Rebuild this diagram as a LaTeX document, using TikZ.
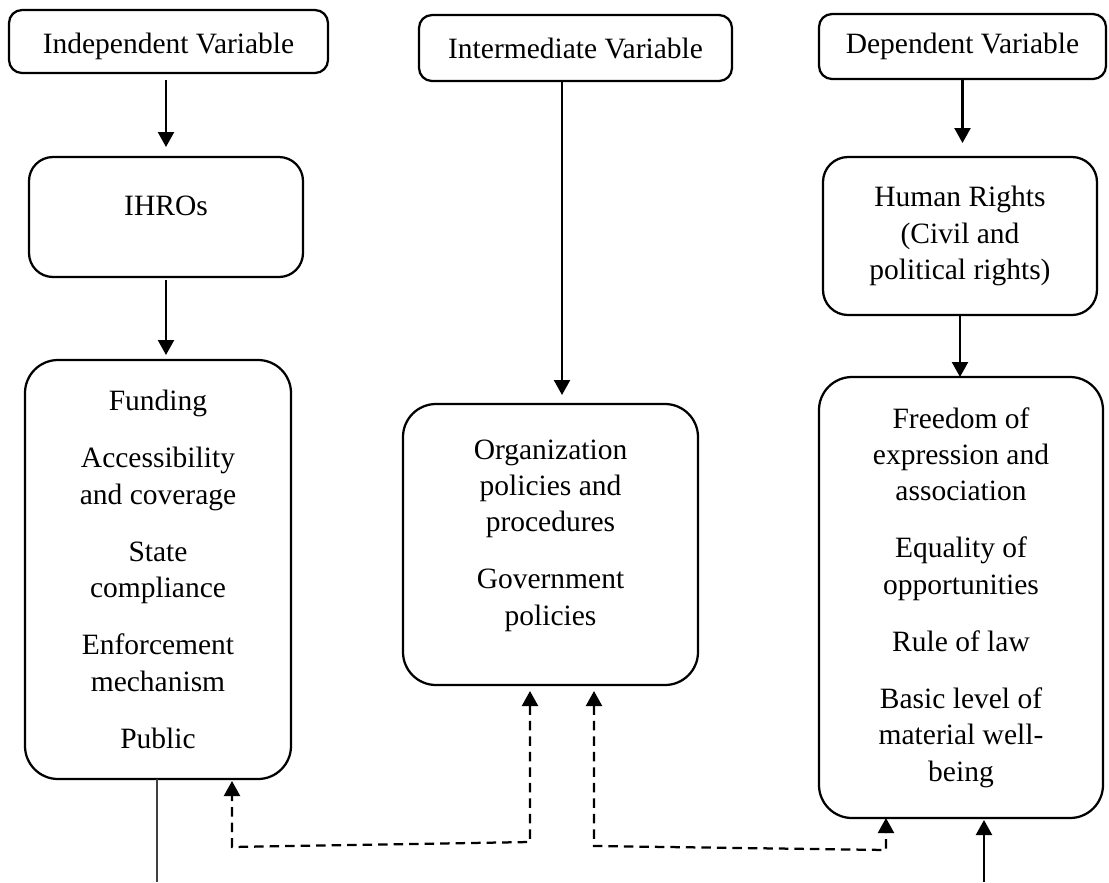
\documentclass[tikz,border=0pt]{standalone}
\usepackage{fontspec}
\setmainfont{Liberation Serif}
\usetikzlibrary{arrows.meta,calc}
\begin{document}
\begin{tikzpicture}[x=0.4pt,y=-0.4pt,
  box/.style={draw, line width=0.9pt, align=center, inner sep=0pt, outer sep=0pt,
    font=\fontsize{11.8}{14.5}\selectfont},
  sz/.style n args={3}{minimum width=#1*0.4pt, minimum height=#2*0.4pt, rounded corners=#3*0.4pt},
  tipa/.tip={Triangle[width=6.4pt,length=6pt]},
  arr/.style={line width=0.9pt, -tipa},
  dsh/.style={line width=0.9pt, dash pattern=on 3.8pt off 2.4pt, tipa-tipa},
  thinline/.style={line width=0.45pt, draw=black!75}
]
\useasboundingbox (0,0) rectangle (1109,882);

% top row
\node[box, sz={319}{63}{13}, text height=12pt, text depth=2.5pt] (ind) at (168.5,41.5) {Independent Variable};
\node[box, sz={313}{66}{13}] (inter) at (575.5,48) {Intermediate Variable};
\node[box, sz={287}{65}{13}] (dep) at (962.5,46.5) {Dependent Variable};

% second row
\node[box, sz={274}{120}{24}, text depth=9.4pt] (ihro) at (166,217) {IHROs};
\node[box, sz={274}{158}{25}] (hr) at (960,236) {Human Rights\\(Civil and\\political rights)};

% main boxes
\node[box, sz={266}{419}{33}] (L) at (158,569.5)
  {Funding\\[8.4pt]Accessibility\\and coverage\\[8.4pt]State\\compliance\\[8.4pt]Enforcement\\mechanism\\[8.4pt]Public};
\node[box, sz={295}{281}{33}, text depth=9.7pt] (mid) at (550.5,544.5)
  {Organization\\policies and\\procedures\\[8.4pt]Government\\policies};
\node[box, sz={284}{441}{33}] (R) at (961,597.5)
  {Freedom of\\expression and\\association\\[8.4pt]Equality of\\opportunities\\[8.4pt]Rule of law\\[8.4pt]Basic level of\\material well-\\being};

% helper coordinates
\coordinate (a1) at (ind.south -| ihro.north);
\coordinate (im) at ([xshift=-5.4pt]inter.south);
\coordinate (lend) at (157,882);
\coordinate (rend) at (984,882);
\coordinate (d1a) at (530,842);
\coordinate (d1b) at (232,847);
\coordinate (d2a) at (594,846);
\coordinate (d2b) at (886,850);

% solid arrows
\draw[arr, shorten <=2.8pt, shorten >=4pt] (a1) -- (ihro.north);
\draw[arr, shorten <=1.2pt, shorten >=2pt] (ihro.south) -- (ihro.south |- L.north);
\draw[arr, shorten >=3.6pt] (im) -- (im |- mid.north);
\draw[arr, shorten >=5.6pt] (dep.south) -- (dep.south |- hr.north);
\draw[arr] (hr.south) -- (hr.south |- R.north);
\draw[arr, shorten >=0.8pt] (rend) -- (rend |- R.south);

% thin line below left box
\draw[thinline] (L.south -| lend) -- (lend);

% dashed two-way connectors
\draw[dsh, shorten <=2.4pt, shorten >=0.8pt] (d1a |- mid.south) -- (d1a) -- (d1b) -- (d1b |- L.south);
\draw[dsh, shorten <=2.4pt] (d2a |- mid.south) -- (d2a) -- (d2b) -- (d2b |- R.south);
\end{tikzpicture}
\end{document}
